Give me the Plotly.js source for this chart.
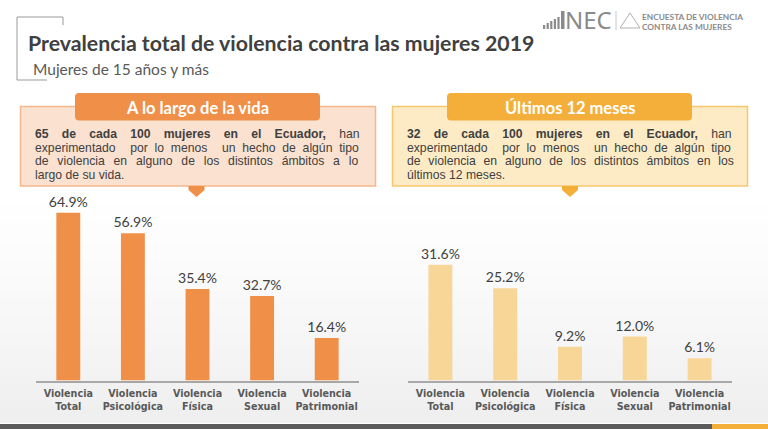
<!DOCTYPE html>
<html>
<head>
<meta charset="utf-8">
<script src="https://cdn.plot.ly/plotly-3.0.1.min.js"></script>
<style>
  html, body { margin: 0; padding: 0; background: #ffffff; }
  #chart { width: 768px; height: 429px; }
</style>
</head>
<body>
<div id="chart"></div>
<script>
// ---- Data -------------------------------------------------------------
const categories = [
  'Violencia<br>Total',
  'Violencia<br>Psicológica',
  'Violencia<br>Física',
  'Violencia<br>Sexual',
  'Violencia<br>Patrimonial'
];
const lifetimeValues = [64.9, 56.9, 35.4, 32.7, 16.4];
const last12Values   = [31.6, 25.2, 9.2, 12.0, 6.1];

const titleText    = 'Prevalencia total de violencia contra las mujeres 2019';
const subtitleText = 'Mujeres de 15 años y más';
const lifetimeHeader = 'A lo largo de la vida';
const last12Header   = 'Últimos 12 meses';
const lifetimeLines = [
  '65 de cada 100 mujeres en el Ecuador, han',
  'experimentado  por lo menos  un hecho de algún tipo',
  'de violencia en alguno de los distintos ámbitos a lo',
  'largo de su vida.'
];
const last12Lines = [
  '32 de cada 100 mujeres en el Ecuador, han',
  'experimentado  por lo menos  un hecho de algún tipo',
  'de violencia en alguno de los distintos ámbitos en los',
  'últimos 12 meses.'
];
const boldWordCount = 8; // leading bold words of each box's first line

// ---- Geometry helpers (pixel -> paper) --------------------------------
const W = 768, H = 429;
const px = x => x / W;
const py = y => 1 - y / H;

const ORANGE = '#F08F47';
const ORANGE_LIGHT = '#FBE1CF';
const ORANGE_EDGE = '#F5B88C';
const GOLD = '#F4AF3A';
const GOLD_LIGHT = '#FDEBC6';
const GOLD_EDGE = '#F7C770';
const BAR_GOLD = '#F8D698';
const TEXT_DARK = '#404040';
const TEXT_MID = '#595959';

const shapes = [];
const annotations = [];

// soft grey haze in the lower half of the page
const hazeTop = 190, hazeBottom = 423, bands = 30;
for (let i = 0; i < bands; i++) {
  const y0 = hazeTop + (hazeBottom - hazeTop) * i / bands;
  const y1 = hazeTop + (hazeBottom - hazeTop) * (i + 1) / bands;
  const a = 0.16 * Math.pow((i + 0.5) / bands, 1.3);
  shapes.push({type: 'rect', xref: 'paper', yref: 'paper', layer: 'below',
    x0: 0, x1: 1, y0: py(y1), y1: py(y0), line: {width: 0},
    fillcolor: `rgba(150,150,150,${a.toFixed(3)})`});
}

// bottom strip
shapes.push({type: 'rect', xref: 'paper', yref: 'paper', x0: 0, x1: px(712),
  y0: 0, y1: py(424), line: {width: 0}, fillcolor: '#5b5b5b'});
shapes.push({type: 'rect', xref: 'paper', yref: 'paper', x0: px(712), x1: 1,
  y0: 0, y1: py(424), line: {width: 0}, fillcolor: '#F4AF3A'});

// title bracket
shapes.push({type: 'path', xref: 'paper', yref: 'paper',
  path: `M${px(63)},${py(25)} L${px(63)},${py(17)} L${px(17)},${py(17)} L${px(17)},${py(80)} L${px(47)},${py(80)}`,
  line: {color: '#9a9a9a', width: 1}});

// rounded rectangle path in pixel coordinates
function roundRect(x0, y0, x1, y1, r) {
  const P = (x, y) => `${px(x)},${py(y)}`;
  return `M${P(x0 + r, y0)} L${P(x1 - r, y0)} Q${P(x1, y0)} ${P(x1, y0 + r)} ` +
         `L${P(x1, y1 - r)} Q${P(x1, y1)} ${P(x1 - r, y1)} L${P(x0 + r, y1)} ` +
         `Q${P(x0, y1)} ${P(x0, y1 - r)} L${P(x0, y0 + r)} Q${P(x0, y0)} ${P(x0 + r, y0)} Z`;
}

// text measurement for justified paragraphs
const ctx = document.createElement('canvas').getContext('2d');
const BODY_FONT = 'Liberation Sans';
const BODY_SIZE = 12.2;
function textWidth(t, bold) {
  ctx.font = `${bold ? 'bold ' : ''}${BODY_SIZE}px "${BODY_FONT}"`;
  return ctx.measureText(t).width;
}
const NBSP = '\u00a0', HAIR = '\u200a';

// fill a horizontal gap of width g with no-break and hair spaces
function spacer(g, bold) {
  const nw = textWidth(NBSP, bold), hw = textWidth(HAIR, bold);
  const n = Math.max(1, Math.floor(g / nw));
  const rem = g - n * nw;
  const m = hw > 0.2 ? Math.max(0, Math.round(rem / hw)) : 0;
  return NBSP.repeat(n) + HAIR.repeat(m);
}

function callout(opts) {
  const {bx0, bx1, tx0, tx1, tip, fill, edge, accent, header, lines, textX0, textX1} = opts;
  // body box
  shapes.push({type: 'rect', xref: 'paper', yref: 'paper',
    x0: px(bx0), x1: px(bx1), y0: py(186), y1: py(106.5),
    fillcolor: fill, line: {color: edge, width: 1.5}});
  // header tab
  shapes.push({type: 'path', xref: 'paper', yref: 'paper',
    path: roundRect(tx0, 93, tx1, 120.5, 4), fillcolor: accent, line: {width: 0}});
  // pointer below the box
  const P = (x, y) => `${px(x)},${py(y)}`;
  shapes.push({type: 'path', xref: 'paper', yref: 'paper',
    path: `M${P(tip - 8, 186)} L${P(tip + 8, 186)} L${P(tip + 8, 190)} L${P(tip, 197)} L${P(tip - 8, 190)} Z`,
    fillcolor: accent, line: {width: 0}});
  annotations.push({xref: 'paper', yref: 'paper', x: px((tx0 + tx1) / 2), y: py(107.5),
    text: `<b>${header}</b>`, showarrow: false, xanchor: 'center', yanchor: 'middle',
    font: {family: 'Lato', size: 16.5, color: '#ffffff'}});

  // justified paragraph, one annotation per line
  lines.forEach((line, li) => {
    const parts = line.split(/( +)/);
    const words = [], gaps = [];
    parts.forEach(p => { if (/^ +$/.test(p)) gaps.push(p.length); else if (p) words.push(p); });
    const bolds = words.map((w, wi) => li === 0 && wi < boldWordCount);
    const widths = words.map((w, wi) => textWidth(w, bolds[wi]));
    const total = widths.reduce((a, b) => a + b, 0);
    const last = li === lines.length - 1;
    const gapUnits = gaps.reduce((a, b) => a + b, 0);
    const unit = (textX1 - textX0 - total) / gapUnits;
    let html = '';
    let inBold = false;
    words.forEach((w, wi) => {
      if (bolds[wi] && !inBold) { html += '<b>'; inBold = true; }
      if (!bolds[wi] && inBold) { html += '</b>'; inBold = false; }
      html += w;
      if (wi < gaps.length) {
        const gapBold = bolds[wi] && bolds[wi + 1];
        if (!gapBold && inBold) { html += '</b>'; inBold = false; }
        html += last ? ' ' : spacer(gaps[wi] * unit, gapBold);
      }
    });
    if (inBold) html += '</b>';
    annotations.push({xref: 'paper', yref: 'paper', x: px(textX0), y: py(134 + li * 13.7),
      text: html, showarrow: false, xanchor: 'left', yanchor: 'middle', borderpad: 0, borderwidth: 0,
      font: {family: BODY_FONT, size: BODY_SIZE, color: TEXT_DARK}});
  });
}

callout({bx0: 20.5, bx1: 375.5, tx0: 75, tx1: 320, tip: 196.5,
  fill: ORANGE_LIGHT, edge: ORANGE_EDGE, accent: ORANGE,
  header: lifetimeHeader, lines: lifetimeLines, textX0: 35, textX1: 360});
callout({bx0: 392.5, bx1: 747.5, tx0: 447, tx1: 692, tip: 570,
  fill: GOLD_LIGHT, edge: GOLD_EDGE, accent: GOLD,
  header: last12Header, lines: last12Lines, textX0: 407, textX1: 733});

// title and subtitle
annotations.push({xref: 'paper', yref: 'paper', x: px(26), y: py(43),
  text: `<b>${titleText}</b>`, showarrow: false, xanchor: 'left', yanchor: 'middle',
  font: {family: 'Lato', size: 21.3, color: TEXT_DARK}});
annotations.push({xref: 'paper', yref: 'paper', x: px(31), y: py(69),
  text: subtitleText, showarrow: false, xanchor: 'left', yanchor: 'middle',
  font: {family: 'Lato', size: 15.5, color: TEXT_MID}});

// INEC logo
const LOGO = '#8a8a8a';
[4, 6, 8, 10, 12].forEach((h, i) => {
  shapes.push({type: 'rect', xref: 'paper', yref: 'paper',
    x0: px(543 + i * 3.6), x1: px(545.2 + i * 3.6), y0: py(29), y1: py(29 - h),
    fillcolor: LOGO, line: {width: 0}});
});
shapes.push({type: 'rect', xref: 'paper', yref: 'paper',
  x0: px(561), x1: px(564.5), y0: py(29), y1: py(11), fillcolor: LOGO, line: {width: 0}});
annotations.push({xref: 'paper', yref: 'paper', x: px(563), y: py(20),
  text: 'NEC', showarrow: false, xanchor: 'left', yanchor: 'middle',
  font: {family: 'Noto Sans', size: 24, color: LOGO}});
shapes.push({type: 'line', xref: 'paper', yref: 'paper',
  x0: px(616), x1: px(616), y0: py(11), y1: py(30), line: {color: '#c8c8c8', width: 1}});
shapes.push({type: 'path', xref: 'paper', yref: 'paper',
  path: `M${px(630)},${py(13)} L${px(640)},${py(28)} L${px(620)},${py(28)} Z`,
  line: {color: '#b0b0b0', width: 1}, fillcolor: 'rgba(0,0,0,0)'});
annotations.push({xref: 'paper', yref: 'paper', x: px(642), y: py(16.8),
  text: '<b>ENCUESTA DE VIOLENCIA</b>', showarrow: false, xanchor: 'left', yanchor: 'middle',
  borderpad: 0, borderwidth: 0, font: {family: 'Lato', size: 8.3, color: LOGO}});
annotations.push({xref: 'paper', yref: 'paper', x: px(642), y: py(27.2),
  text: '<b>CONTRA LAS MUJERES</b>', showarrow: false, xanchor: 'left', yanchor: 'middle',
  borderpad: 0, borderwidth: 0, font: {family: 'Lato', size: 8.3, color: LOGO}});

// ---- Bar traces -------------------------------------------------------
const fmt = v => v.toFixed(1) + '%';
const valueFont = {family: 'Lato', size: 14, color: TEXT_DARK};

const traces = [
  {type: 'bar', x: categories, y: lifetimeValues, xaxis: 'x', yaxis: 'y',
   marker: {color: ORANGE}, text: lifetimeValues.map(fmt), textposition: 'outside',
   constraintext: 'none', textfont: valueFont, cliponaxis: false, hoverinfo: 'none'},
  {type: 'bar', x: categories, y: last12Values, xaxis: 'x2', yaxis: 'y2',
   marker: {color: BAR_GOLD}, text: last12Values.map(fmt), textposition: 'outside',
   constraintext: 'none', textfont: valueFont, cliponaxis: false, hoverinfo: 'none'}
];

const yBottom = py(380.5), yTop = py(200);
const xAxisBase = {
  type: 'category', categoryarray: categories, range: [-0.5, 4.5],
  showline: true, linecolor: '#A8A8A8', linewidth: 2,
  showgrid: false, zeroline: false, ticks: '', fixedrange: true,
  tickfont: {family: 'DejaVu Sans', size: 9.6, color: TEXT_MID, weight: 'bold'},
  ticklabelstandoff: 3
};
const layout = {
  width: W, height: H, margin: {l: 0, r: 0, t: 0, b: 0},
  paper_bgcolor: '#ffffff', plot_bgcolor: 'rgba(0,0,0,0)',
  showlegend: false, bargap: 0.63,
  xaxis: Object.assign({}, xAxisBase, {domain: [px(36), px(359)], anchor: 'y'}),
  yaxis: {domain: [yBottom, yTop], range: [0, 69.8], visible: false, fixedrange: true, anchor: 'x'},
  xaxis2: Object.assign({}, xAxisBase, {domain: [px(408), px(732)], anchor: 'y2'}),
  yaxis2: {domain: [yBottom, yTop], range: [0, 49.3], visible: false, fixedrange: true, anchor: 'x2'},
  shapes: shapes,
  annotations: annotations
};

Plotly.newPlot('chart', traces, layout, {displayModeBar: false, staticPlot: true});
</script>
</body>
</html>
